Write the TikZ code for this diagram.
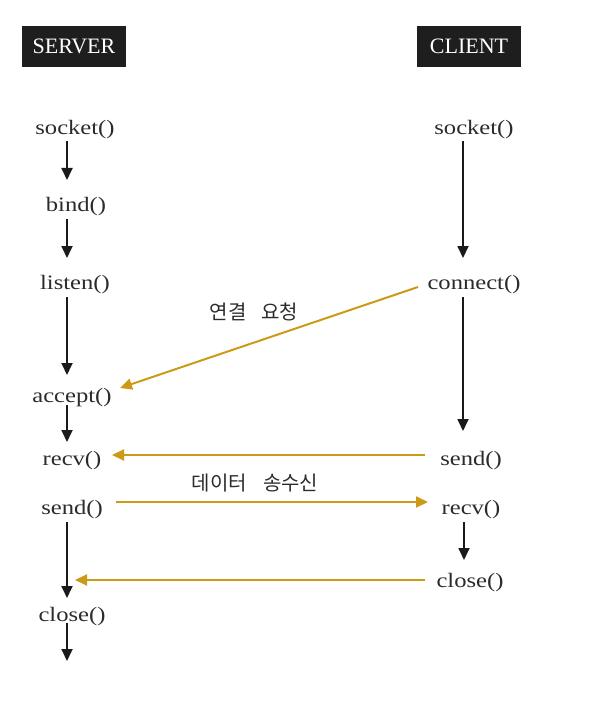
\documentclass[tikz,border=0pt]{standalone}
\usepackage{fontspec}
\setmainfont{Liberation Serif}
\newfontfamily\bodyf[FakeStretch=1.2]{Liberation Serif}
\newfontfamily\kr{Noto Sans CJK KR}
\usetikzlibrary{arrows.meta,calc}
\definecolor{txt}{HTML}{2B2B2B}
\definecolor{hdrbg}{HTML}{1E1E1E}
\definecolor{arr}{HTML}{1A1A1A}
\definecolor{gld}{HTML}{CC9A16}
\begin{document}
\begin{tikzpicture}[x=1pt,y=-1pt,
  fn/.style={font=\bodyf\fontsize{20.5}{24}\selectfont, text=txt, inner sep=0pt},
  hdr/.style={fill=hdrbg, text=white, font=\fontsize{22}{24}\selectfont, minimum width=104pt, minimum height=41pt, inner sep=0pt},
  lbl/.style={font=\kr\fontsize{20}{22}\selectfont, text=txt, inner sep=0pt},
  blk/.style={-{Triangle[length=12pt,width=11pt]}, line width=1.8pt, draw=arr},
  gold/.style={-{Triangle[length=12pt,width=11pt]}, line width=2pt, draw=gld}]
\useasboundingbox (0,0) rectangle (592,711);
% headers
\node[hdr] (hs) at (74,46.5) {SERVER};
\node[hdr] (hc) at (469,46.5) {CLIENT};
% server
\node[fn] (ssock) at (75,130) {socket()};
\node[fn] (sbind) at (76,207) {bind()};
\node[fn] (slist) at (75,285) {listen()};
\node[fn] (sacc) at (72,398) {accept()};
\node[fn] (srecv) at (72,461) {recv()};
\node[fn] (ssend) at (72,510) {send()};
\node[fn] (sclose) at (72,617) {close()};
% client
\node[fn] (csock) at (474,130) {socket()};
\node[fn] (cconn) at (474,285) {connect()};
\node[fn] (csend) at (471,461) {send()};
\node[fn] (crecv) at (471,510) {recv()};
\node[fn] (cclose) at (470,583) {close()};
% labels
\node[lbl] (l1) at (254,312) {연결\hspace{15pt}요청};
\node[lbl] (l2) at (255,483) {데이터\hspace{16pt}송수신};
% server arrows
\draw[blk] (ssock) ++(-8,11) -- ++(0,39);
\draw[blk] (sbind) ++(-9,12) -- ++(0,39);
\draw[blk] (slist) ++(-8,12) -- ++(0,78);
\draw[blk] (sacc) ++(-5,7) -- ++(0,37);
\draw[blk] (ssend) ++(-5,12) -- ++(0,76);
\draw[blk] (sclose) ++(-5,6) -- ++(0,38);
% client arrows
\draw[blk] (csock) ++(-11,11) -- ++(0,117);
\draw[blk] (cconn) ++(-11,12) -- ++(0,134);
\draw[blk] (crecv) ++(-7,12) -- ++(0,38);
% gold arrows
\draw[gold] (cconn) ++(-56,2) -- ($(sacc)+(48,-10)$);
\draw[gold] (csend) ++(-46,-6) -- ($(srecv)+(40,-6)$);
\draw[gold] (ssend) ++(44,-8) -- ($(crecv)+(-43,-8)$);
\draw[gold] (cclose) ++(-45,-3) -- ($(sclose)+(3,-37)$);
\end{tikzpicture}
\end{document}
